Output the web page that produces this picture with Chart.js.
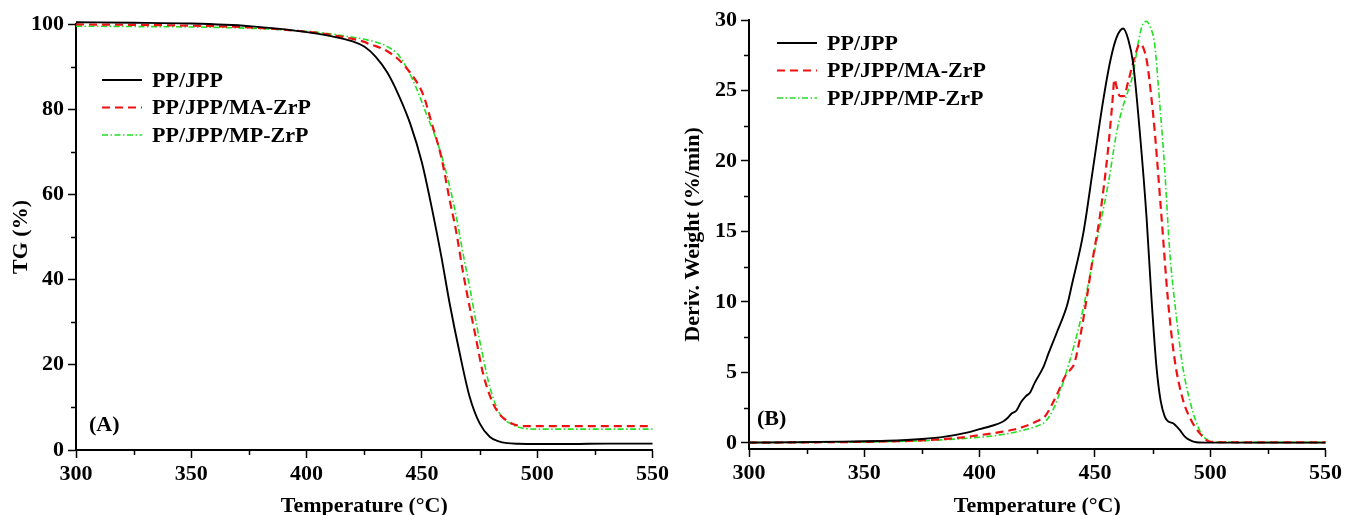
<!DOCTYPE html>
<html><head><meta charset="utf-8">
<script src="https://cdn.jsdelivr.net/npm/chart.js@4/dist/chart.umd.min.js"></script>
<style>
html,body{margin:0;padding:0;background:#fff;overflow:hidden}
#wrap{position:relative;width:1345px;height:515px;background:#fff}
canvas{position:absolute;top:0}
</style></head><body>
<div id="wrap">
<canvas id="cA" width="672" height="515" style="left:0"></canvas>
<canvas id="cB" width="673" height="515" style="left:672px"></canvas>
</div>
<script>
// ---------- DATA ----------
const seriesNames = ['PP/JPP', 'PP/JPP/MA-ZrP', 'PP/JPP/MP-ZrP'];
const tempTicks = [300, 350, 400, 450, 500, 550];
const tempMinor = [325, 375, 425, 475, 525];
const tgTicks = [0, 20, 40, 60, 80, 100];
const tgMinor = [10, 30, 50, 70, 90];
const dtgTicks = [0, 5, 10, 15, 20, 25, 30];
const dtgMinor = [2.5, 7.5, 12.5, 17.5, 22.5, 27.5];

// TG (%) - panel A
const tgT_PP   = [300,325,350,375,400,410,420,425,430,435,440,445,450,454.8,458.4,462,466.4,470.7,475,479.4,483,487,492,500,515,530,550];
const tgV_PP   = [100.4,100.3,100.1,99.5,98.1,97.2,95.9,94.7,92.3,88.6,83.2,76.5,67.5,55.5,45.5,34.5,22.7,12.5,6.3,3.1,2.1,1.6,1.45,1.4,1.4,1.5,1.5];
const tgT_MA   = [300,325,350,375,400,410,420,425,428,430,435,440,445,450.5,454.1,458.4,462,464.9,467.8,470.7,473.6,476.5,480.8,484,486.6,490,494,500,550];
const tgV_MA   = [99.9,99.8,99.6,99.2,98.2,97.5,96.5,95.8,95.1,94.8,93.6,91.6,88.5,83.5,77,68.8,58.8,51.2,41.8,33.6,25.8,18,11,8.2,7,6.0,5.6,5.6,5.6];
const tgT_MP   = [300,325,350,375,400,410,420,425,430,435,440,446.1,452,457.7,462,464.9,467.8,470.7,473.6,476.5,479.4,483.7,489.5,495,500,550];
const tgV_MP   = [99.5,99.4,99.3,99.0,98.3,97.7,96.9,96.4,95.8,94.7,92.6,86.8,78.8,70.6,62,54.8,46.2,38.3,29.7,21.9,14.9,8.6,5.9,5.0,4.9,4.9];

// Deriv. Weight (%/min) - panel B
const dtgT_PP  = [300,320,340,360,375,385,395,400,405,410,412,414,416,418,420,422,424,427.7,430,433.4,438,440,445,449.3,453.6,456.8,459.5,462.3,464.5,466.6,469.5,472.4,474.6,476.7,478.5,480.3,482,483.9,486.8,489,491.2,494,500,525,550];
const dtgV_PP  = [0.03,0.05,0.09,0.15,0.28,0.45,0.75,0.98,1.2,1.5,1.75,2.1,2.3,2.9,3.3,3.6,4.3,5.4,6.4,7.8,9.8,11.2,14.9,19.6,24.3,27.2,28.8,29.4,28.6,26.9,22,16,10.1,5.4,3.0,1.87,1.5,1.4,0.92,0.45,0.2,0.05,0.02,0.02,0.02];
const dtgT_MA  = [300,325,350,375,390,400,410,415,420,425,428.4,431,434,437,439.4,441,443,446.3,449,452.1,455.7,457.5,458.5,459.5,460.8,462.5,464.4,467.3,469.5,472.4,474.5,476,478.9,481.7,484.6,488.2,491.8,495.4,499.7,505,550];
const dtgV_MA  = [0.02,0.04,0.08,0.18,0.35,0.55,0.8,0.95,1.2,1.55,1.9,2.6,3.6,4.7,5.2,5.6,7.0,10.1,13,16,20.8,24.0,25.8,25.2,24.6,24.6,25.6,27.4,28.3,27.2,24.5,22,16,10.1,5.9,3.05,1.6,0.7,0.1,0.05,0.04];
const dtgT_MP  = [300,325,350,375,390,400,410,420,425,428.4,432,437,444.2,450,455.8,459.4,461.5,463,466.6,468.7,470.5,472.3,474,475.9,478,480.2,482.4,485.3,488.1,491.8,495.4,499,505,550];
const dtgV_MP  = [0.02,0.04,0.07,0.15,0.28,0.4,0.6,0.95,1.2,1.5,2.4,4.7,9,13.7,18.4,22,23.5,24.3,26.2,28.3,29.6,29.9,29.5,28.3,24.3,19.6,13.7,9,5.4,2.6,0.9,0.2,0.05,0.04];

// ---------- HELPERS ----------
const FONT = "'Liberation Serif','Times New Roman',serif";
const pts = (T, V) => T.map((t, i) => ({x: t, y: V[i]}));
const styles = [
  {borderColor: '#000000', borderWidth: 1.9, borderDash: []},
  {borderColor: '#ee1111', borderWidth: 2.2, borderDash: [8, 5]},
  {borderColor: '#22e022', borderWidth: 1.6, borderDash: [6, 2.5, 1.5, 2.5]}
];
function makeDatasets(list) {
  return list.map((d, i) => Object.assign({
    label: seriesNames[i], data: d, pointRadius: 0, fill: false,
    cubicInterpolationMode: 'monotone', clip: 6
  }, styles[i]));
}

const overlay = {
  id: 'overlay',
  afterDraw(chart, args, o) {
    const ctx = chart.ctx, xs = chart.scales.x, ys = chart.scales.y;
    ctx.save();
    // minor ticks
    ctx.strokeStyle = '#000'; ctx.lineWidth = 1.5; ctx.setLineDash([]);
    o.xMinor.forEach(v => {
      const px = Math.round(xs.getPixelForValue(v)) + 0.5;
      ctx.beginPath(); ctx.moveTo(px, xs.top); ctx.lineTo(px, xs.top + 5); ctx.stroke();
    });
    o.yMinor.forEach(v => {
      const py = Math.round(ys.getPixelForValue(v)) + 0.5;
      ctx.beginPath(); ctx.moveTo(ys.right, py); ctx.lineTo(ys.right - 5, py); ctx.stroke();
    });
    // legend
    ctx.font = 'bold 22px ' + FONT;
    ctx.textBaseline = 'middle'; ctx.textAlign = 'left'; ctx.fillStyle = '#000';
    chart.data.datasets.forEach((ds, i) => {
      const y = o.legY + i * o.legGap;
      ctx.beginPath();
      ctx.setLineDash(ds.borderDash || []);
      ctx.strokeStyle = ds.borderColor; ctx.lineWidth = ds.borderWidth;
      ctx.moveTo(o.legX, y); ctx.lineTo(o.legX + 40, y); ctx.stroke();
      ctx.setLineDash([]);
      ctx.fillText(ds.label, o.legX + 50, y + 1);
    });
    ctx.fillText(o.tag, o.tagX, o.tagY);
    ctx.restore();
  }
};

function makeScales(yMin, yMax, yTickList, yTitle, yWidth, xHeight) {
  const tickFont = {family: FONT, size: 22, weight: 'bold'};
  return {
    x: {
      type: 'linear', min: 300, max: 550,
      afterBuildTicks: s => { s.ticks = tempTicks.map(v => ({value: v})); },
      afterFit: s => { s.height = xHeight; },
      ticks: {font: tickFont, color: '#000', padding: 3, maxRotation: 0, autoSkip: false},
      grid: {drawOnChartArea: false, drawTicks: true, tickLength: 8, tickColor: '#000', tickWidth: 1.5},
      border: {color: '#000', width: 2},
      title: {display: true, text: 'Temperature (°C)', color: '#000', padding: 0,
              font: {family: FONT, size: 22, weight: 'bold', lineHeight: 0.8}}
    },
    y: {
      type: 'linear', min: yMin, max: yMax,
      afterBuildTicks: s => { s.ticks = yTickList.map(v => ({value: v})); },
      afterFit: s => { s.width = yWidth; },
      ticks: {font: tickFont, color: '#000', padding: 4, autoSkip: false},
      grid: {drawOnChartArea: false, drawTicks: true, tickLength: 8, tickColor: '#000', tickWidth: 1.5},
      border: {color: '#000', width: 2},
      title: {display: true, text: yTitle, color: '#000', padding: {top: 8, bottom: 0},
              font: {family: FONT, size: 22, weight: 'bold', lineHeight: 1.2}}
    }
  };
}

const common = {responsive: false, animation: false, devicePixelRatio: 1, events: []};

new Chart(document.getElementById('cA'), {
  type: 'line',
  data: {datasets: makeDatasets([pts(tgT_PP, tgV_PP), pts(tgT_MA, tgV_MA), pts(tgT_MP, tgV_MP)])},
  options: Object.assign({}, common, {
    layout: {padding: {left: 0, right: 19, top: 24, bottom: 0}},
    scales: makeScales(0, 100, tgTicks, 'TG (%)', 76, 65),
    plugins: {
      legend: {display: false}, tooltip: {enabled: false},
      overlay: {xMinor: tempMinor, yMinor: tgMinor, legX: 102, legY: 80, legGap: 27.5, tag: '(A)', tagX: 89, tagY: 425}
    }
  }),
  plugins: [overlay]
});

new Chart(document.getElementById('cB'), {
  type: 'line',
  data: {datasets: makeDatasets([pts(dtgT_PP, dtgV_PP), pts(dtgT_MA, dtgV_MA), pts(dtgT_MP, dtgV_MP)])},
  options: Object.assign({}, common, {
    layout: {padding: {left: 0, right: 19, top: 20, bottom: 0}},
    scales: makeScales(-0.43, 30, dtgTicks, 'Deriv. Weight (%/min)', 77, 66),
    plugins: {
      legend: {display: false}, tooltip: {enabled: false},
      overlay: {xMinor: tempMinor, yMinor: dtgMinor, legX: 105, legY: 43, legGap: 27.5, tag: '(B)', tagX: 85, tagY: 419}
    }
  }),
  plugins: [overlay]
});
</script>
</body></html>
